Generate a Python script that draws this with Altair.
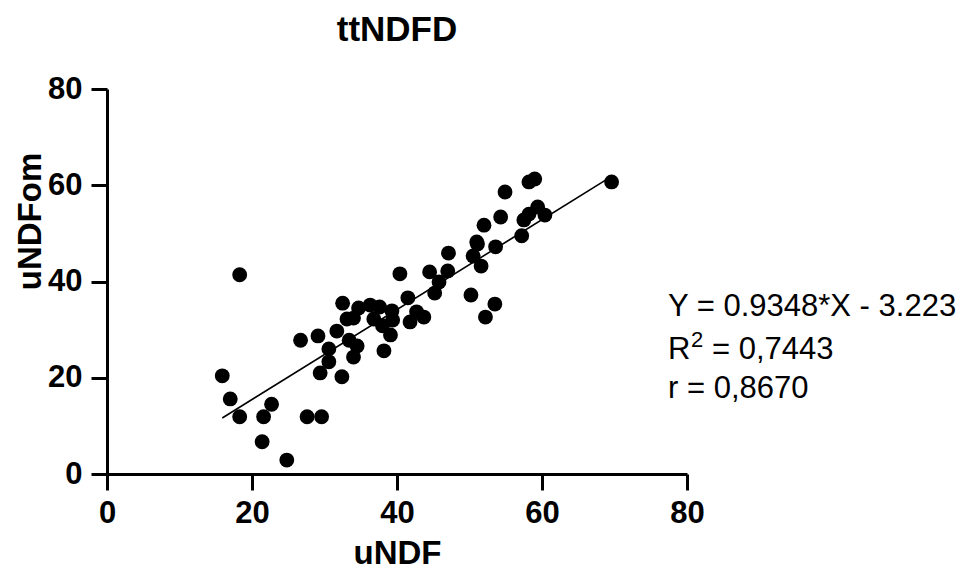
import altair as alt
import pandas as pd

# Data
undf = [18.3, 15.9, 17.0, 18.3, 22.7, 21.6, 21.4, 24.8, 27.6, 29.6,
        26.7, 29.1, 31.7, 30.6, 30.6, 29.4, 32.4, 32.5, 33.1, 34.0,
        33.4, 34.7, 36.3, 37.6, 39.3, 36.8, 38.0, 39.1, 41.8, 41.5,
        34.5, 38.2, 34.0, 39.4, 40.4, 44.5, 47.1, 51.1, 51.6, 47.0,
        45.8, 45.2, 50.2, 42.7, 43.7, 52.2, 53.5, 58.2, 59.0, 54.9,
        69.6, 54.3, 52.0, 59.4, 58.2, 57.5, 60.4, 57.2, 53.6, 51.0,
        50.5]
undfom = [41.4, 20.4, 15.6, 11.9, 14.5, 11.9, 6.7, 2.9, 11.9, 11.9,
          27.8, 28.7, 29.7, 26.0, 23.3, 21.0, 20.2, 35.5, 32.2, 24.3,
          27.8, 34.5, 35.1, 34.7, 33.9, 32.2, 30.8, 28.9, 31.6, 36.6,
          26.6, 25.6, 32.4, 32.0, 41.6, 42.0, 45.9, 47.8, 43.2, 42.2,
          39.9, 37.6, 37.2, 33.7, 32.6, 32.6, 35.3, 60.7, 61.3, 58.6,
          60.7, 53.4, 51.7, 55.5, 54.0, 52.8, 53.8, 49.5, 47.2, 48.2,
          45.3]

slope = 0.9348
intercept = -3.223
eq_lines = ["Y = 0.9348*X - 3.223", "= 0,7443", "r = 0,8670"]
ticks = [0, 20, 40, 60, 80]

pts = pd.DataFrame({"uNDF": undf, "uNDFom": undfom})
xmin, xmax = min(undf), max(undf)
fit = pd.DataFrame({"uNDF": [xmin, xmax],
                    "uNDFom": [slope * xmin + intercept, slope * xmax + intercept]})

FONT = "Liberation Sans, Arial, Helvetica, sans-serif"

xscale = alt.Scale(domain=[0, 80], nice=False, zero=False)
yscale = alt.Scale(domain=[0, 80], nice=False, zero=False)

xaxis = alt.Axis(values=ticks, title="uNDF", grid=False, domainColor="black",
                 domainWidth=3, tickColor="black", tickWidth=3, tickSize=16,
                 labelFont=FONT, labelFontWeight="bold", labelFontSize=31,
                 labelColor="black", labelPadding=8, labelFlush=False,
                 titleFont=FONT, titleFontWeight="bold", titleFontSize=33,
                 titleColor="black", titleBaseline="middle", titleY=79)
yaxis = alt.Axis(values=ticks, title="uNDFom", grid=False, domainColor="black",
                 domainWidth=3, tickColor="black", tickWidth=3, tickSize=16,
                 labelFont=FONT, labelFontWeight="bold", labelFontSize=31,
                 labelColor="black", labelPadding=9, labelFlush=False,
                 titleFont=FONT, titleFontWeight="bold", titleFontSize=33,
                 titleColor="black", titleAngle=270, titleBaseline="middle",
                 titleAlign="center", titleX=-77, titleY=132)

points = alt.Chart(pts).mark_circle(size=220, color="black", opacity=1).encode(
    x=alt.X("uNDF:Q", scale=xscale, axis=xaxis),
    y=alt.Y("uNDFom:Q", scale=yscale, axis=yaxis),
)

line = alt.Chart(fit).mark_line(color="black", strokeWidth=1.6).encode(
    x=alt.X("uNDF:Q", scale=xscale),
    y=alt.Y("uNDFom:Q", scale=yscale),
)

txt_df = pd.DataFrame({"t": [0]})
base_txt = alt.Chart(txt_df)
t1 = base_txt.mark_text(text=eq_lines[0], font=FONT, fontSize=31, align="left",
                        baseline="alphabetic", color="black").encode(
    x=alt.value(561), y=alt.value(227))
t2a = base_txt.mark_text(text="R", font=FONT, fontSize=31, align="left",
                         baseline="alphabetic", color="black").encode(
    x=alt.value(561), y=alt.value(270))
t2b = base_txt.mark_text(text="2", font=FONT, fontSize=22, align="left",
                         baseline="alphabetic", color="black").encode(
    x=alt.value(584), y=alt.value(258))
t2c = base_txt.mark_text(text=eq_lines[1], font=FONT, fontSize=31, align="left",
                         baseline="alphabetic", color="black").encode(
    x=alt.value(605), y=alt.value(270))
t3 = base_txt.mark_text(text=eq_lines[2], font=FONT, fontSize=31, align="left",
                        baseline="alphabetic", color="black").encode(
    x=alt.value(561), y=alt.value(309))

chart = alt.layer(points, line, t1, t2a, t2b, t2c, t3).properties(
    width=580, height=385,
    title=alt.TitleParams(text="ttNDFD", font=FONT, fontSize=35,
                          fontWeight="bold", color="black", anchor="middle",
                          frame="group", offset=25),
    autosize=alt.AutoSizeParams(type="none"),
    padding={"left": 107, "top": 89, "right": 273, "bottom": 99},
).configure_view(strokeWidth=0, stroke=None)

chart.save("out.html", embed_options={"renderer": "svg", "actions": False})
